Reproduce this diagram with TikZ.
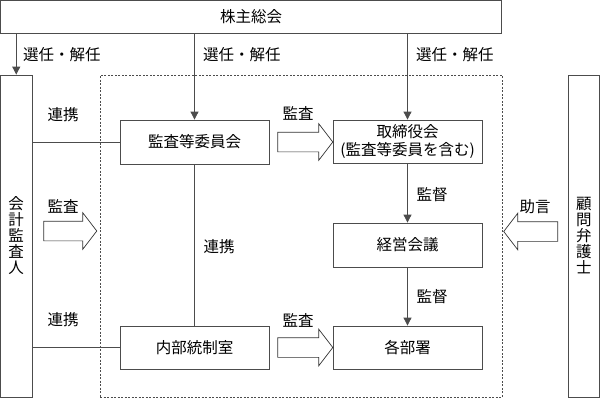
\documentclass[tikz,border=0pt]{standalone}
\usepackage{fontspec}
\setmainfont{Noto Sans CJK JP}
\usetikzlibrary{arrows.meta,shapes.arrows}
\tikzset{pin/.style={-{Triangle[length=8pt, width=8pt]}, line width=0.8pt, draw=black!70},
  link/.style={line width=0.8pt, draw=black!70},
  blk/.style={draw=black!70, line width=0.8pt, align=center, inner sep=0pt},
  dashframe/.style={draw=black!70, line width=0.8pt, dash pattern=on 2pt off 1.5pt, inner sep=0pt},
  fatarrow/.style={single arrow, draw=black!80, line width=0.7pt, inner xsep=0pt, inner ysep=9.5pt,
    minimum width=36pt, single arrow head extend=8.5pt, single arrow tip angle=105},
  lbl/.style={inner sep=0pt}}

\begin{document}
\begin{tikzpicture}[x=1pt, y=-1pt, font=\fontsize{15.5}{16}\selectfont]
  \useasboundingbox (0,0) rectangle (600,399);
  % frame of the board side
  \node[dashframe, minimum width=402pt, minimum height=322pt] (board) at (301,236) {};
  % boxes
  \node[blk, minimum width=501pt, minimum height=32.5pt] (gm) at (251,16.75) {株主総会};
  \node[blk, minimum width=31.5pt, minimum height=322pt] (kaikei) at (16.25,236) {会\\計\\監\\査\\人};
  \node[blk, minimum width=31.5pt, minimum height=322pt] (komon) at (583.75,236) {顧\\問\\弁\\護\\士};
  \node[blk, minimum width=149pt, minimum height=44pt] (kansa) at (194.5,142) {監査等委員会};
  \node[blk, minimum width=149pt, minimum height=43pt, font=\fontsize{15.5}{18}\selectfont] (tori) at (407.5,141.5) {取締役会\\(監査等委員を含む)};
  \node[blk, minimum width=149pt, minimum height=44pt] (keiei) at (407.5,245) {経営会議};
  \node[blk, minimum width=149pt, minimum height=43pt] (naibu) at (194.5,347.5) {内部統制室};
  \node[blk, minimum width=149pt, minimum height=43pt] (kakubu) at (407.5,347.5) {各部署};
  % block arrows
  \node[fatarrow, minimum height=53pt] (audit1) at (66.5,231) {};
  \node[fatarrow, minimum height=55pt] (audit2) at (301.5,142) {};
  \node[fatarrow, minimum height=55pt] (audit3) at (301.5,347.5) {};
  \node[fatarrow, minimum height=54pt, shape border rotate=180] (advice) at (534.5,231.5) {};
  % connectors
  \draw[pin] (kaikei.north |- gm.south) -- (kaikei.north);
  \draw[pin] (kansa.north |- gm.south) -- (kansa.north);
  \draw[pin] (tori.north |- gm.south) -- (tori.north);
  \draw[pin] (tori.south) -- (keiei.north);
  \draw[pin] (keiei.south) -- (kakubu.north);
  \draw[link] (kansa.south) -- (naibu.north);
  \draw[link] (kaikei.east |- kansa.west) -- (kansa.west);
  \draw[link] (kaikei.east |- naibu.west) -- (naibu.west);
  % labels
  \node[lbl, anchor=west] (sel1) at (23,55) {選任・解任};
  \node[lbl, anchor=west] (sel2) at (203,55) {選任・解任};
  \node[lbl, anchor=west] (sel3) at (416,55) {選任・解任};
  \node[lbl] (ren1) at (63,115) {連携};
  \node[lbl] (ren2) at (219,247) {連携};
  \node[lbl] (ren3) at (63,320) {連携};
  \node[lbl] (kan1) at (63,206) {監査};
  \node[lbl] (kan2) at (298,113) {監査};
  \node[lbl] (kan3) at (298,320) {監査};
  \node[lbl] (tok1) at (432,195) {監督};
  \node[lbl] (tok2) at (432,297) {監督};
  \node[lbl] (jog) at (535,207) {助言};
\end{tikzpicture}
\end{document}
